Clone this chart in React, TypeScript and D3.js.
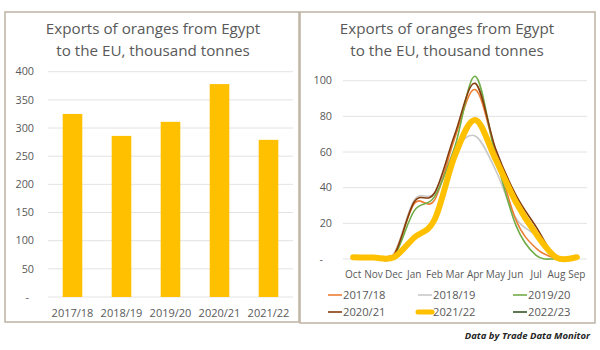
import * as d3 from 'd3';

const seasons = ['2017/18', '2018/19', '2019/20', '2020/21', '2021/22'];
const seasonTotals = [325, 286, 311, 378, 279];

const months = ['Oct', 'Nov', 'Dec', 'Jan', 'Feb', 'Mar', 'Apr', 'May', 'Jun', 'Jul', 'Aug', 'Sep'];
const s1718 = [0.5, 0.3, 2.5, 31, 33, 68, 95, 60, 22, 6, 0.3, 0.3];
const s1819 = [0.5, 0.3, 3, 33, 37, 61, 69, 50, 23, 13, 0.5, 0.5];
const s1920 = [0.5, 0.3, 1.5, 27, 35, 63, 102.5, 58, 19, 2, 0, 0];
const s2021 = [0.5, 0.3, 2, 32, 37, 70, 98.5, 62, 36, 18, 0.5, 0.3];
const s2122 = [1, 0.8, 1, 12, 22, 58, 78, 56, 32, 14, 0.8, 1];
const s2223 = [1, 0.3, 2];

const barTicks = [0, 50, 100, 150, 200, 250, 300, 350, 400];
const lineTicks = [0, 20, 40, 60, 80, 100];

const FONT = '"Open Sans", sans-serif';
const TXT = '#595959';
const GRID = '#e3e3e3';
const BORDER = '#bdb3a3';

const lineSeries = [
  { name: '2017/18', values: s1718, color: '#ED7D31', width: 1.6 },
  { name: '2018/19', values: s1819, color: '#C9C9C9', width: 1.6 },
  { name: '2019/20', values: s1920, color: '#70AD47', width: 1.6 },
  { name: '2020/21', values: s2021, color: '#843C0C', width: 1.6 },
  { name: '2021/22', values: s2122, color: '#FFC000', width: 6 },
  { name: '2022/23', values: s2223, color: '#375623', width: 1.6 },
];
// gold sits on top in the reference
const drawOrder = [1, 0, 2, 3, 5, 4];

function Title({ cx }: { cx: number }) {
  return (
    <text x={cx} textAnchor="middle" fontFamily={FONT} fontSize={15.2} fill={TXT}>
      <tspan x={cx} y={34}>Exports of oranges from Egypt</tspan>
      <tspan x={cx} y={56}>to the EU, thousand tonnes</tspan>
    </text>
  );
}

function BarPanel() {
  const x = d3.scaleBand<string>().domain(seasons).range([48, 293]).paddingInner(0.6).paddingOuter(0.3);
  const y = d3.scaleLinear().domain([0, 400]).range([297, 71.7]);
  return (
    <g>
      <rect x={5} y={12} width={294} height={310} fill="#fff" stroke={BORDER} strokeWidth={1.5} />
      <Title cx={153} />
      {barTicks.map((t) => (
        <g key={t}>
          <line x1={48} x2={293} y1={y(t)} y2={y(t)} stroke={GRID} strokeWidth={1} />
          <text x={t === 0 ? 29 : 34} y={y(t)} dy="0.35em" textAnchor="end" fontFamily={FONT} fontSize={10.8} fill={TXT}>
            {t === 0 ? '-' : t}
          </text>
        </g>
      ))}
      {seasons.map((s, i) => (
        <rect key={s} x={x(s)} y={y(seasonTotals[i])} width={x.bandwidth()} height={y(0) - y(seasonTotals[i])} fill="#FFC000" />
      ))}
      {seasons.map((s) => (
        <text key={s} x={(x(s) || 0) + x.bandwidth() / 2} y={317} textAnchor="middle" fontFamily={FONT} fontSize={11} fill={TXT}>
          {s}
        </text>
      ))}
    </g>
  );
}

function LinePanel() {
  const x = d3.scalePoint<string>().domain(months).range([343, 587]).padding(0.5);
  const y = d3.scaleLinear().domain([0, 100]).range([259, 80.7]);
  const line = d3
    .line<number>()
    .x((_, i) => x(months[i]) || 0)
    .y((d) => y(d))
    .curve(d3.curveCardinal.tension(0));

  const legendCols = [328, 418, 513];
  const legendRows = [295, 312];

  return (
    <g>
      <rect x={300} y={12} width={295} height={311} fill="#fff" stroke={BORDER} strokeWidth={1.5} />
      <Title cx={447} />
      {lineTicks.map((t) => (
        <g key={t}>
          <line x1={343} x2={587} y1={y(t)} y2={y(t)} stroke={GRID} strokeWidth={1} />
          <text x={t === 0 ? 323 : 332} y={y(t)} dy="0.35em" textAnchor="end" fontFamily={FONT} fontSize={10.8} fill={TXT}>
            {t === 0 ? '-' : t}
          </text>
        </g>
      ))}
      {months.map((m) => (
        <text key={m} x={x(m)} y={278} textAnchor="middle" fontFamily={FONT} fontSize={10} fill={TXT}>
          {m}
        </text>
      ))}
      {drawOrder.map((k) => {
        const s = lineSeries[k];
        return (
          <path key={s.name} d={line(s.values) || ''} fill="none" stroke={s.color} strokeWidth={s.width} strokeLinecap="round" strokeLinejoin="round" />
        );
      })}
      {lineSeries.map((s, i) => {
        const lx = legendCols[i % 3];
        const ly = legendRows[Math.floor(i / 3)];
        return (
          <g key={s.name}>
            <line x1={lx} x2={lx + 14} y1={ly} y2={ly} stroke={s.color} strokeWidth={s.width === 6 ? 5 : 1.6} strokeLinecap={s.width === 6 ? 'round' : 'butt'} />
            <text x={lx + 15} y={ly} dy="0.35em" fontFamily={FONT} fontSize={11.2} fill={TXT}>
              {s.name}
            </text>
          </g>
        );
      })}
      <text x={590} y={339} textAnchor="end" fontFamily={FONT} fontSize={9.5} fontStyle="italic" fontWeight="bold" fill="#262626">
        Data by Trade Data Monitor
      </text>
    </g>
  );
}

export default function App() {
  return (
    <svg width={600} height={350} style={{ position: 'absolute', left: 0, top: 0, background: '#fff' }}>
      <rect x={0} y={0} width={600} height={350} fill="#fff" />
      <BarPanel />
      <LinePanel />
    </svg>
  );
}
